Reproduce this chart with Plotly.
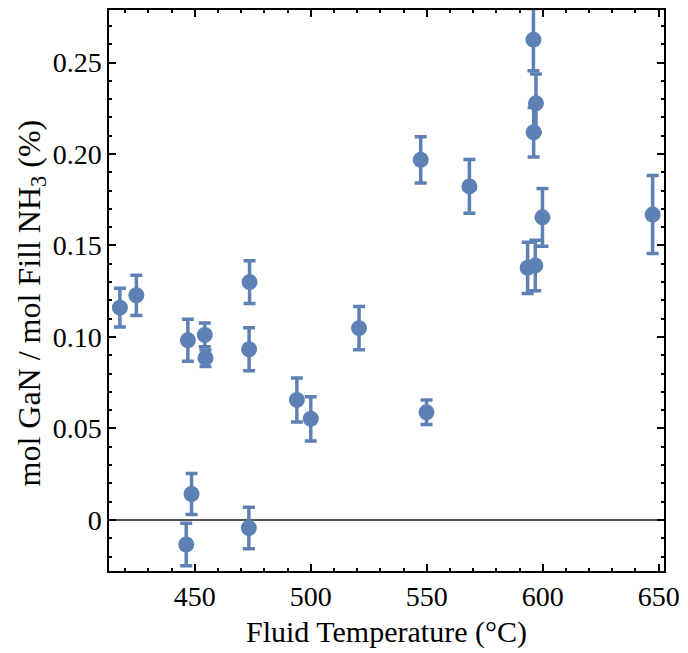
import plotly.graph_objects as go

# Fluid temperature (°C)
temperature = [417.7, 424.8, 447.0, 454.3, 454.6, 473.6, 473.4, 494.0, 500.0, 520.8,
               448.6, 446.3, 473.3, 596.0, 597.1, 596.1, 547.4, 568.4, 599.9, 593.5,
               596.8, 647.4, 549.9]
# mol GaN / mol fill NH3 (%)
ratio = [0.1160, 0.1228, 0.0982, 0.1011, 0.0884, 0.1300, 0.0933, 0.0656, 0.0553, 0.1048,
         0.0142, -0.0134, -0.0044, 0.2625, 0.2277, 0.2119, 0.1968, 0.1823, 0.1654, 0.1378,
         0.1391, 0.1669, 0.0588]
# error (symmetric)
ratio_err = [0.0106, 0.0110, 0.0115, 0.0065, 0.0045, 0.0117, 0.0118, 0.0120, 0.0121, 0.0118,
             0.0112, 0.0116, 0.0114, 0.0170, 0.0160, 0.0135, 0.0126, 0.0147, 0.0158, 0.0140,
             0.0138, 0.0213, 0.0067]

x_tickvals = [450, 500, 550, 600, 650]
x_ticktext = ["450", "500", "550", "600", "650"]
y_tickvals = [0, 0.05, 0.10, 0.15, 0.20, 0.25]
y_ticktext = ["0", "0.05", "0.10", "0.15", "0.20", "0.25"]

color = "#5E81B5"
font_family = "Liberation Serif, Times New Roman, serif"

fig = go.Figure()
fig.add_trace(go.Scatter(
    x=temperature, y=ratio, mode="markers",
    marker=dict(size=16, color=color),
    error_y=dict(type="data", array=ratio_err, visible=True,
                 color=color, thickness=3.5, width=6),
    showlegend=False,
))

axis_common = dict(
    showline=True, linecolor="black", linewidth=1.5, mirror="ticks",
    ticks="inside", ticklen=7, tickwidth=2, tickcolor="black",
    showgrid=False,
    tickfont=dict(family=font_family, size=28, color="black"),
)

fig.update_xaxes(
    range=[413, 652.3], tickvals=x_tickvals, ticktext=x_ticktext,
    minor=dict(ticks="inside", ticklen=3.5, tickwidth=2, dtick=10, tick0=400,
               tickcolor="black", showgrid=False),
    zeroline=False,
    title=dict(text="Fluid Temperature (°C)", standoff=10,
               font=dict(family=font_family, size=30, color="black")),
    **axis_common,
)
fig.update_yaxes(
    range=[-0.0279, 0.2787], tickvals=y_tickvals, ticktext=y_ticktext,
    minor=dict(ticks="inside", ticklen=3.5, tickwidth=2, dtick=0.01, tick0=0,
               tickcolor="black", showgrid=False),
    zeroline=True, zerolinecolor="#555555", zerolinewidth=1.5,
    **axis_common,
)

fig.add_annotation(
    text="mol GaN / mol Fill NH<sub>3</sub> (%)",
    xref="paper", yref="paper", x=0, y=0.5,
    xshift=-78, yshift=-13, xanchor="center", yanchor="middle",
    textangle=-90, showarrow=False,
    font=dict(family=font_family, size=32, color="black"),
)

fig.update_layout(
    width=688, height=653,
    margin=dict(l=109, r=17, t=8, b=82),
    plot_bgcolor="white", paper_bgcolor="white",
    font=dict(family=font_family, color="black"),
)

fig.write_html("out.html")
